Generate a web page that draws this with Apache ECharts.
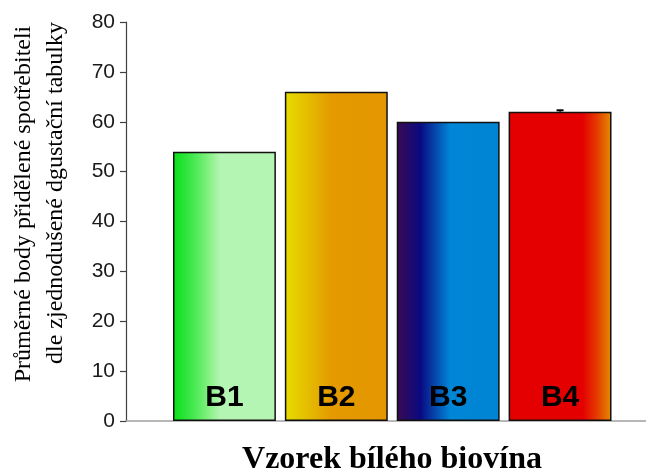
<!DOCTYPE html>
<html>
<head>
<meta charset="utf-8">
<script src="https://cdn.jsdelivr.net/npm/echarts@6/dist/echarts.min.js"></script>
<style>
  html, body { margin: 0; padding: 0; background: #ffffff; }
  #chart { width: 646px; height: 472px; }
</style>
</head>
<body>
<div id="chart"></div>
<script>
// Wine samples and their mean consumer scores
const categories = ['B1', 'B2', 'B3', 'B4'];
const scores = [54, 66, 60, 62];
const errors = [0, 0, 0, 0.3];
const yTicks = { min: 0, max: 80, step: 10 };

const yTitleLines = ['Průměrné body přidělené spotřebiteli', 'dle zjednodušené dgustační tabulky'];
const xTitle = 'Vzorek bílého biovína';

// Horizontal colour ramps for each bar
const ramps = [
  [[0, '#08e018'], [0.18, '#3ee84a'], [0.32, '#78ef78'], [0.46, '#b4f5b4'], [1, '#b4f5b4']],
  [[0, '#e6dc00'], [0.2, '#e5c000'], [0.45, '#e49a00'], [1, '#e49600']],
  [[0, '#3a0a50'], [0.23, '#0a0a82'], [0.52, '#0086d6'], [1, '#0084d4']],
  [[0, '#e40000'], [0.72, '#e40000'], [0.86, '#e43c00'], [1, '#e48e00']]
];

function gradient(stops) {
  return new echarts.graphic.LinearGradient(0, 0, 1, 0,
    stops.map(s => ({ offset: s[0], color: s[1] })));
}

const chart = echarts.init(document.getElementById('chart'), null, { renderer: 'canvas' });

chart.setOption({
  animation: false,
  backgroundColor: '#ffffff',
  grid: [
    { left: 168.5, right: 30, top: 22, bottom: 51 },
    { left: 126, right: 0, top: 22, bottom: 51 }
  ],
  xAxis: [
    {
      gridIndex: 0, type: 'category', data: categories,
      axisLine: { show: false }, axisTick: { show: false }, axisLabel: { show: false }
    },
    {
      gridIndex: 1, type: 'value', min: 0, max: 1,
      axisLine: { show: true, lineStyle: { color: '#a0a0a0', width: 1.5 } },
      axisTick: { show: false }, axisLabel: { show: false }, splitLine: { show: false }
    }
  ],
  yAxis: [
    {
      gridIndex: 0, type: 'value', min: yTicks.min, max: yTicks.max, interval: yTicks.step,
      show: false, splitLine: { show: false }
    },
    {
      gridIndex: 1, type: 'value', min: yTicks.min, max: yTicks.max, interval: yTicks.step,
      axisLine: { show: true, lineStyle: { color: '#404040', width: 1.2 } },
      axisTick: { show: true, inside: false, length: 6, lineStyle: { color: '#404040', width: 1.2 } },
      axisLabel: { margin: 11, color: '#1a1a1a', fontFamily: 'Liberation Sans, Arial, sans-serif', fontSize: 21 },
      splitLine: { show: false }
    }
  ],
  series: [
    {
      type: 'bar',
      xAxisIndex: 0, yAxisIndex: 0,
      barWidth: '92%',
      data: scores.map((v, i) => ({
        value: v,
        itemStyle: { color: gradient(ramps[i]), borderColor: '#111111', borderWidth: 1.5 }
      })),
      label: {
        show: true,
        position: 'insideBottom',
        distance: 8,
        formatter: p => categories[p.dataIndex],
        color: '#000000',
        fontFamily: 'Liberation Sans, Arial, sans-serif',
        fontWeight: 'bold',
        fontSize: 30
      },
      z: 2
    },
    {
      // upper error caps
      type: 'custom',
      xAxisIndex: 0, yAxisIndex: 0,
      data: scores.map((v, i) => [i, v, errors[i]]),
      renderItem: function (params, api) {
        const err = api.value(2);
        if (!err) return null;
        const top = api.coord([api.value(0), api.value(1) + err]);
        const base = api.coord([api.value(0), api.value(1)]);
        const half = 3.5;
        return {
          type: 'group',
          children: [
            { type: 'line', shape: { x1: top[0], y1: top[1], x2: base[0], y2: base[1] },
              style: { stroke: '#000', lineWidth: 1.5 } },
            { type: 'line', shape: { x1: top[0] - half, y1: top[1], x2: top[0] + half, y2: top[1] },
              style: { stroke: '#000', lineWidth: 2 } }
          ]
        };
      },
      z: 5
    }
  ],
  graphic: [
    {
      type: 'text', x: 24, y: 204, rotation: Math.PI / 2,
      style: {
        text: yTitleLines[0], align: 'center', verticalAlign: 'middle',
        font: '24px "Liberation Serif", "Times New Roman", serif', fill: '#000'
      }
    },
    {
      type: 'text', x: 56, y: 193, rotation: Math.PI / 2,
      style: {
        text: yTitleLines[1], align: 'center', verticalAlign: 'middle',
        font: '24px "Liberation Serif", "Times New Roman", serif', fill: '#000'
      }
    },
    {
      type: 'text', x: 392, y: 444,
      style: {
        text: xTitle, align: 'center', verticalAlign: 'top',
        font: 'bold 32px "Liberation Serif", "Times New Roman", serif', fill: '#000'
      }
    }
  ]
});
</script>
</body>
</html>
